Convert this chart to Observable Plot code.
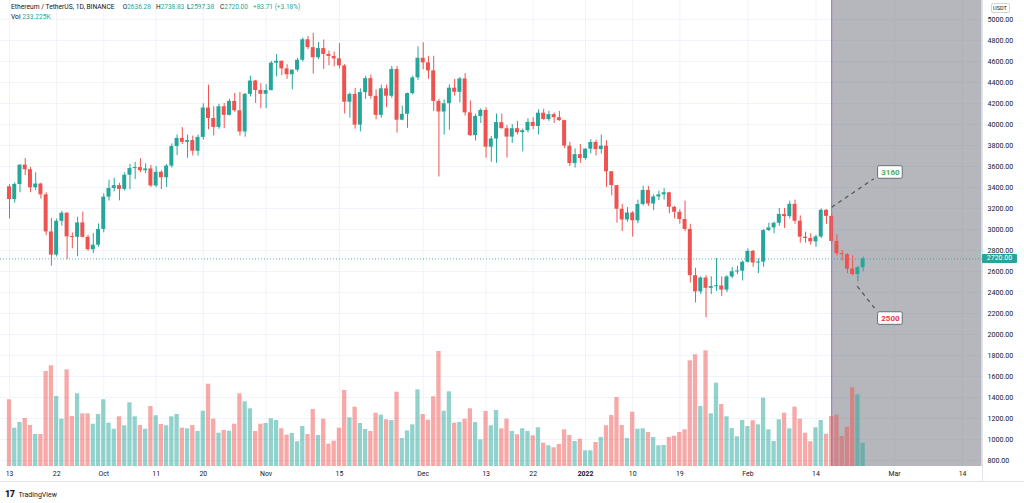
<!DOCTYPE html>
<html><head><meta charset="utf-8">
<script src="https://cdn.jsdelivr.net/npm/d3@7"></script>
<script src="https://cdn.jsdelivr.net/npm/@observablehq/plot@0.6"></script>
<style>
html,body{margin:0;padding:0;background:#fff;}
#wrap{position:relative;width:1024px;height:503px;overflow:hidden;font-family:Roboto,"Noto Sans",sans-serif;color:#131722;}
.layer{position:absolute;left:0;top:0;}
.g{color:#26a69a;}
</style></head><body>
<div id="wrap">
  <div class="layer" id="l1"></div>
  <div class="layer" id="l2"></div>
  <div class="layer" id="l3"></div>
</div>
<script>
// ---------- data ----------
const firstDay = "2021-09-13";
const lastDay = "2022-02-23";
const opens = [3407,3285,3429,3613,3569,3398,3433,3330,2977,2756,3078,3155,2930,2926,3063,2926,2807,2851,
3001,3308,3391,3418,3382,3517,3580,3590,3560,3577,3415,3545,3493,3604,3790,3868,3830,3847,3745,
3877,4157,4057,3972,4169,4087,4220,4131,3929,4287,4414,4324,
4288,4323,4584,4602,4530,4474,4518,4612,4807,4732,4636,4723,4667,4648,4625,4558,4212,4287,3994,4304,4437,4268,4087,4340,4269,4524,4041,4097,4294,4444,
4631,4587,4511,4220,4119,4198,4346,4307,4434,4111,3894,4077,4134,3784,3862,4018,3960,3880,3960,3922,3941,4020,3981,4108,4047,4094,4065,4037,3794,3628,3713,
3676,3765,3829,3761,3794,3550,3418,3193,3091,3157,3083,3238,3372,3243,3310,3330,3350,3212,3164,3095,3001,2560,2406,2538,2440,2457,2462,2423,2548,2598,2603,
2688,2792,2681,2690,2990,3015,3059,3143,3123,3240,3079,2927,2914,2882,2929,3183,3125,2886,2770,2760,2623,2571,2636.28];
const highs = [3427,3445,3615,3676,3590,3540,3440,3350,3105,3100,3174,3160,2968,3117,3165,2945,2961,3053,
3340,3470,3488,3440,3540,3620,3640,3675,3625,3610,3600,3560,3620,3815,3900,3970,3900,3890,3900,
4198,4375,4170,4192,4200,4240,4295,4306,4297,4460,4420,4390,
4380,4600,4667,4606,4570,4519,4630,4823,4838,4868,4780,4805,4700,4690,4770,4570,4300,4345,4340,4460,4470,4330,4375,4375,4553,4553,4175,4299,4460,4740,
4778,4647,4650,4240,4235,4378,4429,4448,4485,4223,4099,4150,4160,3885,4100,4100,3990,4000,4030,3957,4055,4065,4140,4145,4126,4110,4125,4040,3830,3768,3810,
3770,3855,3850,3900,3845,3550,3420,3240,3210,3170,3280,3412,3410,3330,3365,3390,3355,3220,3188,3270,3050,2630,2550,2560,2550,2723,2550,2560,2640,2650,2700,
2815,2800,2720,3000,3060,3070,3200,3200,3270,3280,3130,2975,2960,2945,3197,3190,3150,2950,2800,2770,2750,2650,2738.83];
const lows = [3101,3250,3350,3514,3350,3370,3290,2940,2652,2738,3032,2713,2816,2741,2917,2793,2770,2832,
2968,3271,3358,3273,3365,3380,3477,3541,3532,3400,3400,3380,3400,3585,3705,3810,3678,3700,3700,
3850,3950,3890,3955,3960,4082,4117,3890,3879,4262,4200,4150,
4150,4321,4453,4465,4430,4330,4500,4595,4713,4480,4620,4525,4560,4550,4530,4100,4060,3955,3930,4240,4240,4045,4060,4160,4250,3918,4035,3964,4280,4420,
4520,4430,4125,3500,3900,3945,4270,4206,4081,3885,3843,4010,3680,3640,3630,3957,3680,3820,3900,3740,3920,3950,3900,4040,4030,4010,4030,3770,3600,3585,3630,
3660,3720,3700,3719,3400,3320,3060,2980,3070,2928,3055,3223,3220,3180,3275,3280,3150,3100,3050,2980,2490,2300,2380,2159,2380,2410,2363,2400,2530,2570,2510,
2680,2640,2580,2640,2980,2960,3030,3010,3100,3050,2870,2870,2850,2830,2915,3050,2860,2750,2700,2580,2560,2500,2597.38];
const closes = [3285,3429,3613,3569,3398,3433,3330,2977,2756,3078,3155,2930,2926,3063,2926,2807,2851,3001,
3308,3391,3418,3382,3517,3580,3590,3560,3577,3415,3545,3493,3604,3790,3868,3830,3847,3745,3877,
4157,4057,3972,4169,4087,4220,4131,3929,4287,4414,4324,4288,
4323,4584,4602,4530,4474,4518,4612,4807,4732,4636,4723,4667,4648,4625,4558,4212,4287,3994,4304,4437,4268,4087,4340,4269,4524,4041,4097,4294,4444,4631,
4587,4511,4220,4119,4198,4346,4307,4434,4111,3894,4077,4134,3784,3862,4018,3960,3880,3960,3922,3941,4020,3981,4108,4047,4094,4065,4037,3794,3628,3713,3676,
3765,3829,3761,3794,3550,3418,3193,3091,3157,3083,3238,3372,3243,3310,3330,3350,3212,3164,3095,3001,2560,2406,2538,2440,2457,2462,2423,2548,2598,2603,2688,
2792,2681,2690,2990,3015,3059,3143,3123,3240,3079,2927,2914,2882,2929,3183,3125,2886,2770,2760,2623,2571,2636.29,2720];
// volume in thousands of ETH
const volumes = [667,383,440,480,410,320,320,950,1007,700,473,967,500,727,527,527,423,520,667,433,373,497,407,637,497,410,373,600,507,420,407,497,520,383,377,410,350,553,823,473,333,360,353,423,727,647,577,350,423,430,477,460,377,313,330,247,400,320,570,310,473,223,253,383,760,487,593,430,370,350,533,513,467,460,743,280,357,417,767,
520,463,697,1150,553,747,433,440,473,577,440,267,550,407,560,377,473,350,317,377,350,307,387,233,207,187,220,367,310,250,273,157,157,240,290,407,510,690,410,280,543,373,377,340,290,207,210,290,303,340,367,1057,1117,600,1157,527,833,620,497,380,297,460,400,457,417,683,367,250,467,533,377,593,473,333,247,387,460,323,500,513,300,393,787,717,233.225];

const priceTicks = [800,1000,1200,1400,1600,1800,2000,2200,2400,2600,2800,3000,3200,3400,3600,3800,4000,4200,4400,4600,4800,5000];
const timeTickDates = ["2021-09-13","2021-09-22","2021-10-01","2021-10-11","2021-10-20","2021-11-01","2021-11-15","2021-12-01","2021-12-13","2021-12-22","2022-01-01","2022-01-10","2022-01-19","2022-02-01","2022-02-14","2022-03-01","2022-03-14"];
const timeTickLabels = ["13","22","Oct","11","20","Nov","15","Dec","13","22","2022","10","19","Feb","14","Mar","14"];

const lastPrice = 2720;
const shadeFrom = "2022-02-17";
// drawings: dashed projection lines and their labels
const projStart = ["2022-02-17T00:00Z","2022-02-21T21:00Z"];
const projStartPrice = [3212, 2460];
const projEnd = ["2022-02-25T01:00Z","2022-02-25T13:00Z"];
const projEndPrice = [3483, 2229];
const projLabelDate = ["2022-02-28T05:00Z","2022-02-28T05:00Z"];
const projLabelPrice = [3543, 2152];
const projLabelText = ["3160","2500"];
const projLabelColor = ["#4caf50","#f23645"];

// ---------- build ----------
const DAY = 864e5;
const UP = "#26a69a", DOWN = "#ef5350";
const t0 = Date.parse(firstDay);
const dates = d3.utcDay.range(new Date(t0), d3.utcDay.offset(new Date(Date.parse(lastDay)), 1));
const candles = dates.map((date, i) => ({date, o: opens[i], h: highs[i], l: lows[i], c: closes[i], v: volumes[i], up: closes[i] >= opens[i]}));
const ticks = timeTickDates.map((d, i) => ({date: new Date(d), label: timeTickLabels[i]}));
const projLines = projStart.map((d, i) => ({x1: new Date(d), y1: projStartPrice[i], x2: new Date(projEnd[i]), y2: projEndPrice[i]}));
const projLabels = projLabelDate.map((d, i) => ({date: new Date(d), price: projLabelPrice[i], text: projLabelText[i], color: projLabelColor[i]}));

// view window (layout)
const xDomain = [new Date(t0 - 1.7186 * DAY), new Date(t0 + 185.70 * DAY)];
const yDomain = [743, 5181];
const W = 1024, H = 486;
const base = {width: W, height: H, marginLeft: 0, marginRight: 42.5, marginTop: 0, marginBottom: 20,
  color: {type: "identity"},
  style: {background: "transparent", fontFamily: "Roboto, sans-serif", fontSize: "7px", color: "#131722", overflow: "visible"}};
const off = (d, k) => new Date(+d + k * DAY);

// layer 1: grid + shaded range
const p1 = Plot.plot({...base,
  x: {type: "utc", domain: xDomain, axis: null},
  y: {domain: yDomain, axis: null},
  style: {...base.style, background: "#fff"},
  marks: [
    Plot.ruleY(priceTicks, {stroke: "#f0f3fa"}),
    Plot.ruleX(ticks, {x: "date", stroke: "#f0f3fa"}),
    Plot.rect([{a: new Date(shadeFrom), b: xDomain[1]}], {x1: "a", x2: "b", fill: "#787b86", fillOpacity: 0.55})
  ]});
document.getElementById("l1").appendChild(p1);

// layer 2: volume
const p2 = Plot.plot({...base,
  x: {type: "utc", domain: xDomain, axis: null},
  y: {domain: [0, 4660], axis: null},
  marks: [
    Plot.rect(candles, {x1: d => off(d.date, -0.41), x2: d => off(d.date, 0.41), y1: 0, y2: "v",
      fill: d => d.up ? "rgba(38,166,154,0.5)" : "rgba(239,83,80,0.5)"})
  ]});
document.getElementById("l2").appendChild(p2);

// layer 3: candles, drawings, axes
const bodyLo = d => { const lo = Math.min(d.o, d.c), hi = Math.max(d.o, d.c); return hi - lo < 9.5 ? (lo + hi) / 2 - 4.75 : lo; };
const bodyHi = d => { const lo = Math.min(d.o, d.c), hi = Math.max(d.o, d.c); return hi - lo < 9.5 ? (lo + hi) / 2 + 4.75 : hi; };
const p3 = Plot.plot({...base,
  x: {type: "utc", domain: xDomain, axis: null},
  y: {domain: yDomain, axis: null},
  marks: [
    Plot.ruleY([lastPrice], {stroke: UP, strokeDasharray: "1,2", strokeOpacity: 0.8}),
    Plot.ruleX(candles, {x: "date", y1: "l", y2: "h", stroke: d => d.up ? UP : DOWN, strokeWidth: 1}),
    Plot.rect(candles, {x1: d => off(d.date, -0.38), x2: d => off(d.date, 0.38), y1: bodyLo, y2: bodyHi, fill: d => d.up ? UP : DOWN}),
    Plot.ruleX([new Date(shadeFrom)], {stroke: "#a56ecb", strokeWidth: 1}),
    Plot.link(projLines, {x1: "x1", y1: "y1", x2: "x2", y2: "y2", stroke: "#50535e", strokeWidth: 1.2, strokeDasharray: "4,4"}),
    Plot.rect(projLabels, {x1: d => off(d.date, -2.35), x2: d => off(d.date, 2.35), y1: d => d.price - 60, y2: d => d.price + 60,
      fill: "#fff", stroke: "#6a6d78", strokeWidth: 1, rx: 1.5}),
    Plot.text(projLabels, {x: "date", y: "price", text: "text", fill: "color", fontSize: 8, fontWeight: "bold"}),
    Plot.axisY(priceTicks, {anchor: "right", tickSize: 0, tickPadding: 5.5, tickFormat: d => d.toFixed(2), fill: "#131722", fontSize: 7.1}),
    Plot.text(ticks.filter(d => d.label !== "2022"), {x: "date", text: "label", frameAnchor: "bottom", dy: 9, fill: "#131722", fontSize: 6.9}),
    Plot.text(ticks.filter(d => d.label === "2022"), {x: "date", text: "label", frameAnchor: "bottom", dy: 9, fill: "#131722", fontSize: 6.9, fontWeight: "bold"})
  ]});
document.getElementById("l3").appendChild(p3);

// decorations positioned from the plot's scales
const wrap = document.getElementById("wrap");
const ys = p3.scale("y");
function add(html, css) { const e = document.createElement("div"); e.innerHTML = html; Object.assign(e.style, {position: "absolute"}, css); wrap.appendChild(e); return e; }
add("", {left: "981.5px", top: "0px", width: "1px", height: "482px", background: "#e0e3eb"});
add("", {left: "0px", top: "481px", width: "1024px", height: "1px", background: "#e0e3eb"});
const yLast = ys.apply(lastPrice);
add(lastPrice.toFixed(2), {left: "982px", top: (yLast - 4.5) + "px", width: "35px", height: "9px", background: UP, color: "#fff",
  fontSize: "7px", lineHeight: "9px", textAlign: "center", borderRadius: "1px"});
add("USDT", {left: "990.5px", top: "3px", width: "17px", height: "8px", border: "1px solid #d1d4dc", borderRadius: "2px",
  fontSize: "5.6px", lineHeight: "8px", textAlign: "center", color: "#131722", background: "#fff"});
// header legend
const o = opens.at(-1), h = highs.at(-1), l = lows.at(-1), c = closes.at(-1), prev = closes.at(-2);
const ch = c - prev;
const hd = (txt, x, y, fs) => add(txt, {left: x + "px", top: y + "px", fontSize: fs + "px", lineHeight: "8px", whiteSpace: "nowrap"});
hd("Ethereum / TetherUS, 1D, BINANCE", 11, 2.6, 6.7);
hd(`O<span class="g">${o.toFixed(2)}</span>`, 122.7, 2.6, 6.5);
hd(`H<span class="g">${h.toFixed(2)}</span>`, 156, 2.6, 6.5);
hd(`L<span class="g">${l.toFixed(2)}</span>`, 187, 2.6, 6.5);
hd(`C<span class="g">${c.toFixed(2)}</span>`, 220, 2.6, 6.5);
hd(`<span class="g">+${ch.toFixed(2)} (+${(ch / prev * 100).toFixed(2)}%)</span>`, 253, 2.6, 6.5);
hd(`Vol <span class="g">${volumes.at(-1).toFixed(3)}K</span>`, 11, 13.3, 6.7);
// footer logo
add(`<span style="font-weight:900;font-size:9px;letter-spacing:-0.5px">17</span> <span style="font-size:7px">TradingView</span>`,
  {left: "5px", top: "487px", lineHeight: "10px", color: "#131722", whiteSpace: "nowrap"});
</script>
</body></html>
